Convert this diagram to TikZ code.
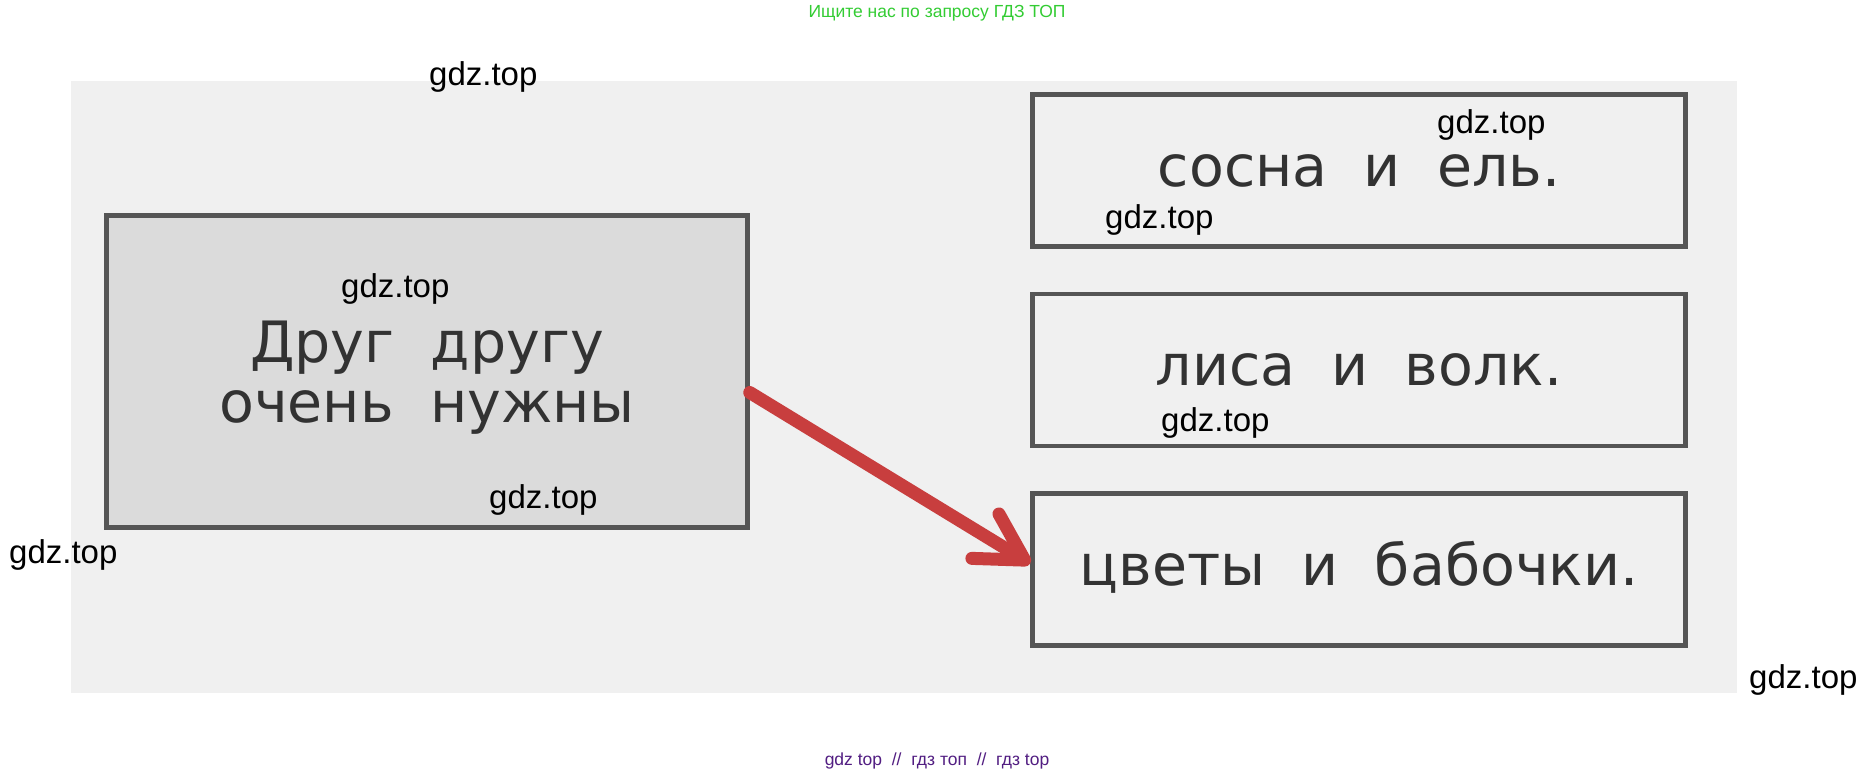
\documentclass[tikz,border=0pt]{standalone}
\usepackage{fontspec}
\setmainfont{DejaVu Sans}
\newfontfamily\wmfont{Liberation Sans}
\usetikzlibrary{calc}
\usetikzlibrary{arrows.meta}
\usetikzlibrary{positioning}

\definecolor{scan}{RGB}{240,240,240}
\definecolor{cardgray}{RGB}{219,219,219}
\definecolor{edge}{RGB}{85,85,85}
\definecolor{ink}{RGB}{50,50,50}
\definecolor{arrowred}{RGB}{200,62,62}
\definecolor{wmgreen}{RGB}{51,204,51}
\definecolor{wmpurple}{RGB}{82,30,130}

\tikzset{
  card/.style={draw=edge, line width=4.5pt, fill=scan, inner sep=0pt, text=ink,
    minimum width=653pt, minimum height=152pt,
    font=\fontsize{57}{60}\selectfont, text height=31pt, text depth=0pt},
  wm/.style={anchor=base west, inner sep=0pt, font=\wmfont\fontsize{33}{36}\selectfont},
  banner/.style={anchor=base, inner sep=0pt, font=\wmfont\fontsize{17.5}{20}\selectfont},
}

\begin{document}
\begin{tikzpicture}[x=1pt, y=-1pt]
\useasboundingbox[fill=white] (0,0) rectangle (1876,774);

% scanned page
\fill[scan] (71,81) rectangle (1737,693);

\node[card, fill=cardgray, minimum width=641pt, minimum height=312pt, align=center,
  text height=101pt] (pair) at (427,371.5) {Друг\ \ другу\\очень\ \ нужны};

\node[card] (pine) at (1359,170.5) {сосна\ \ и\ \ ель.};
\node[card, below=43pt of pine] (fox) {лиса\ \ и\ \ волк.};
\node[card, below=43pt of fox] (flowers) {цветы\ \ и\ \ бабочки.};

\draw[arrowred, line width=13pt, line cap=round,
  -{Straight Barb[length=46pt, width=52pt, round]}]
  ([yshift=-21pt]pair.east) -- ([yshift=6pt]flowers.west);

% watermarks
\node[wm] (w1) at (429,85) {gdz.top};
\node[wm] (w2) at (1437,133) {gdz.top};
\node[wm] (w3) at (1105,228) {gdz.top};
\node[wm] (w4) at (341,297) {gdz.top};
\node[wm] (w5) at (1161,431) {gdz.top};
\node[wm] (w6) at (489,508) {gdz.top};
\node[wm] (w7) at (9,563) {gdz.top};
\node[wm] (w8) at (1749,688) {gdz.top};

\node[banner, text=wmgreen] (top) at (937,17) {Ищите нас по запросу ГДЗ ТОП};
\node[banner, text=wmpurple] (bottom) at (937,765) {gdz top\ \ //\ \ гдз топ\ \ //\ \ гдз top};

\end{tikzpicture}
\end{document}
